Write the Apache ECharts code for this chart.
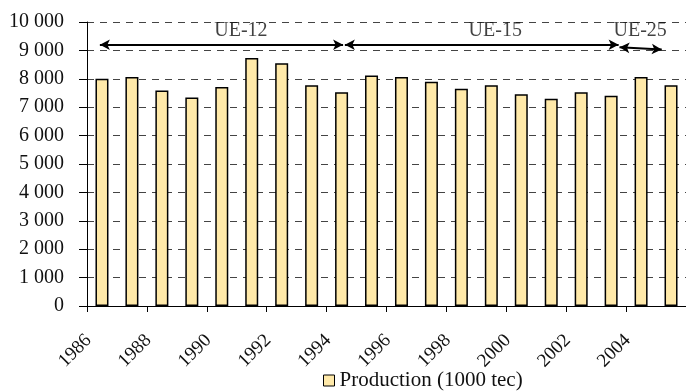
<!DOCTYPE html>
<html>
<head>
<meta charset="utf-8">
<script src="https://cdn.jsdelivr.net/npm/echarts@6/dist/echarts.min.js"></script>
<style>
  html, body { margin: 0; padding: 0; background: #fff; }
  #chart { width: 686px; height: 391px; }
</style>
</head>
<body>
<div id="chart"></div>
<script>
// Hard coal production, 1000 tec
const years = ['1986','1987','1988','1989','1990','1991','1992','1993','1994','1995',
               '1996','1997','1998','1999','2000','2001','2002','2003','2004','2005'];
const production = [8000, 8060, 7590, 7340, 7710, 8730, 8550, 7770, 7530, 8120,
                    8060, 7900, 7650, 7770, 7460, 7300, 7530, 7400, 8060, 7770];
const yTicks = [0, 1000, 2000, 3000, 4000, 5000, 6000, 7000, 8000, 9000, 10000];

// EU membership periods: name, start year, end year (fractional), arrow level
const eraNames = ['UE-12', 'UE-15', 'UE-25'];
const eraStart = [1985.93, 1994.11, 2003.28];
const eraEnd   = [1994.05, 2003.25, 2004.69];
const eraLevelStart = [9200, 9200, 9110];
const eraLevelEnd   = [9200, 9200, 9030];
const eraLabelX = [1990.64, 1999.13, 2003.97];
const eraLabelY = 9680;

const serif = '"Liberation Serif", "Times New Roman", serif';

function fmtThousands(v) {
  return String(v).replace(/\B(?=(\d{3})+(?!\d))/g, ' ');
}

const chart = echarts.init(document.getElementById('chart'), null, { renderer: 'canvas' });

chart.setOption({
  animation: false,
  backgroundColor: '#fff',
  grid: { left: 87, top: 22, width: 610.6, bottom: 85, containLabel: false },
  legend: {
    data: ['Production (1000 tec)'],
    left: 323, top: 370, padding: 0,
    icon: 'rect',
    itemWidth: 11, itemHeight: 11, itemGap: 10,
    itemStyle: { borderColor: '#000', borderWidth: 1 },
    textStyle: { fontFamily: serif, fontSize: 21, color: '#111' }
  },
  xAxis: [
    {
      type: 'category',
      data: years,
      boundaryGap: true,
      axisLine: { lineStyle: { color: '#000', width: 1 } },
      axisTick: { show: true, length: 6, lineStyle: { color: '#000' } },
      axisLabel: {
        interval: 1, rotate: 45, margin: 18,
        padding: [0, 19, 0, 0],
        fontFamily: serif, fontSize: 19, color: '#111'
      },
      splitLine: { show: false }
    },
    {
      type: 'value', min: 1985.5, max: 2005.5, show: false,
      splitLine: { show: false }
    }
  ],
  yAxis: {
    type: 'value', min: 0, max: 10000, interval: 1000,
    axisLine: { show: true, lineStyle: { color: '#000', width: 1 } },
    axisTick: { show: true, length: 8, lineStyle: { color: '#000' } },
    axisLabel: {
      margin: 23, fontFamily: serif, fontSize: 20, color: '#111',
      formatter: fmtThousands,
      customValues: yTicks
    },
    splitLine: { show: true, lineStyle: { color: '#444', type: [7, 6], width: 1 } }
  },
  series: [
    {
      name: 'Production (1000 tec)',
      type: 'bar',
      data: production,
      barWidth: 13,
      itemStyle: { color: '#FFE9A9', borderColor: '#000', borderWidth: 1.5 }
    },
    {
      // era arrows and labels
      type: 'scatter',
      xAxisIndex: 1,
      symbolSize: 0,
      silent: true,
      data: eraNames.map((n, i) => ({ value: [eraLabelX[i], eraLabelY], name: n })),
      label: {
        show: true, position: 'inside', formatter: '{b}',
        fontFamily: serif, fontSize: 20, color: '#111'
      },
      markLine: {
        silent: true,
        symbol: ['arrow', 'arrow'],
        symbolSize: [8, 10],
        label: { show: false },
        lineStyle: { color: '#000', type: 'solid', width: 2 },
        data: eraNames.map((n, i) => [
          { coord: [eraStart[i], eraLevelStart[i]] },
          { coord: [eraEnd[i], eraLevelEnd[i]] }
        ])
      }
    }
  ]
});
</script>
</body>
</html>
